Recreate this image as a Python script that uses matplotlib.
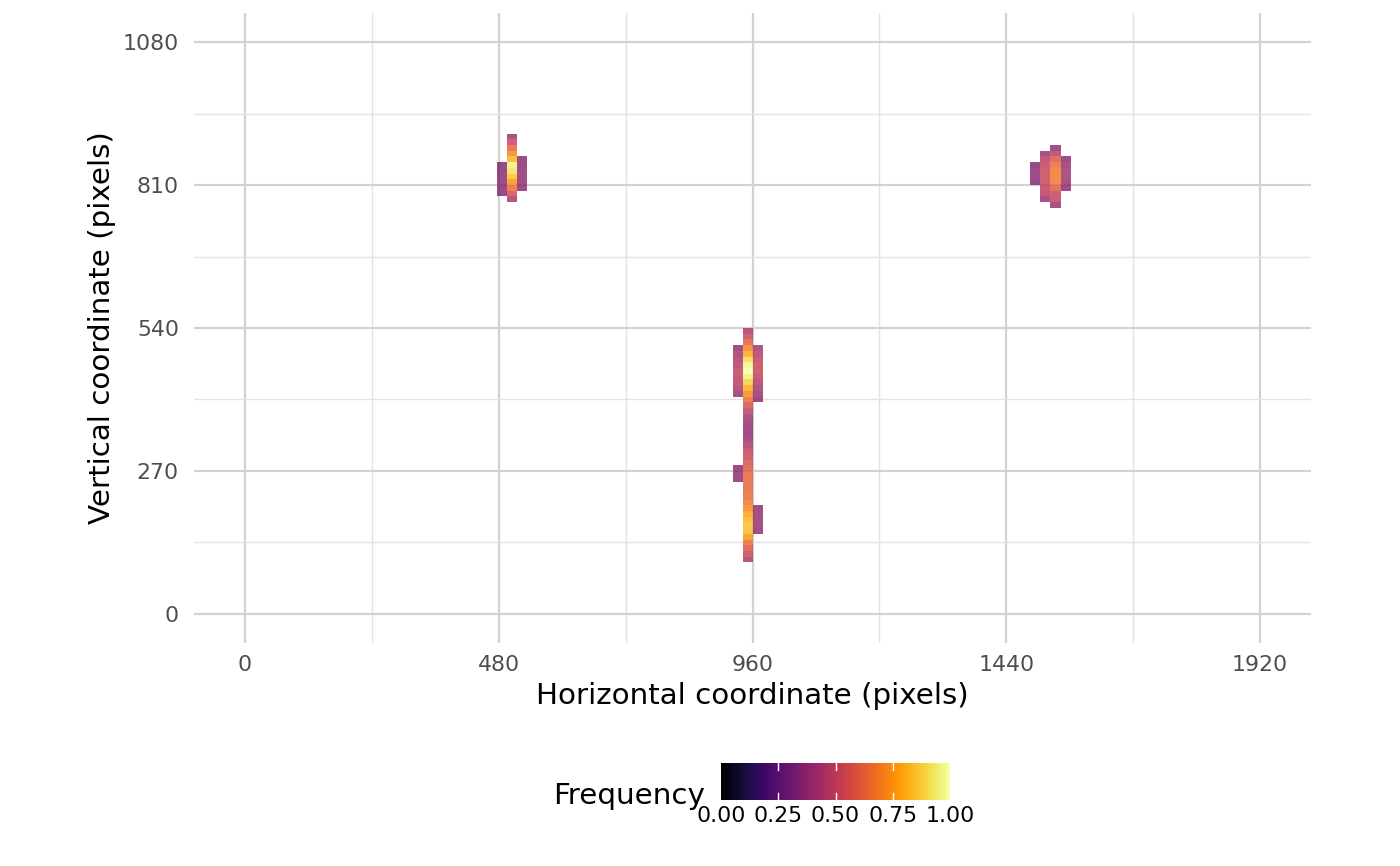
import numpy as np
import matplotlib
matplotlib.use("Agg")
import matplotlib.pyplot as plt
from matplotlib import cm, colors

# heatmap grid: 100 x 100 bins over a 1920 x 1080 screen
bin_w = 1920 / 100
bin_h = 1080 / 100

# each column of tiles: left edge (px), first row bin, frequencies bottom -> top
c1_left = (476.7, 73, [0.35, 0.35, 0.36, 0.36, 0.35, 0.35])
c1_mid = (495.9, 72, [0.45, 0.55, 0.65, 0.75, 0.85, 0.92, 0.95, 0.82, 0.72, 0.62, 0.52, 0.42])
c1_right = (515.1, 74, [0.36, 0.38, 0.38, 0.38, 0.37, 0.36])

c2_left_lo = (922.4, 23, [0.37, 0.37, 0.37])
c2_left_hi = (922.4, 38, [0.40, 0.45, 0.48, 0.50, 0.50, 0.47, 0.45, 0.42, 0.38])
c2_mid = (941.6, 9, [0.45, 0.52, 0.58, 0.66, 0.75, 0.83, 0.84, 0.82, 0.78, 0.72,
                     0.68, 0.65, 0.63, 0.63, 0.62, 0.63, 0.60, 0.57, 0.52, 0.50,
                     0.45, 0.40, 0.38, 0.38, 0.40, 0.42, 0.50, 0.57, 0.65, 0.73,
                     0.80, 0.88, 0.95, 1.00, 0.97, 0.90, 0.80, 0.70, 0.60, 0.52,
                     0.45])
c2_right_lo = (960.8, 14, [0.38, 0.40, 0.40, 0.40, 0.38])
c2_right_hi = (960.8, 37, [0.37, 0.40, 0.42, 0.47, 0.50, 0.52, 0.52, 0.50, 0.47, 0.42])

c3_a = (1485.0, 75, [0.35, 0.37, 0.37, 0.35])
c3_b = (1504.2, 72, [0.40, 0.48, 0.50, 0.52, 0.52, 0.52, 0.50, 0.48, 0.40])
c3_c = (1523.4, 71, [0.40, 0.50, 0.52, 0.60, 0.68, 0.68, 0.68, 0.65, 0.58, 0.48, 0.38])
c3_d = (1542.6, 74, [0.37, 0.40, 0.42, 0.42, 0.40, 0.37])

columns = [c1_left, c1_mid, c1_right,
           c2_left_lo, c2_left_hi, c2_mid, c2_right_lo, c2_right_hi,
           c3_a, c3_b, c3_c, c3_d]

x_ticks = [0, 480, 960, 1440, 1920]
y_ticks = [0, 270, 540, 810, 1080]
legend_ticks = [0, 0.25, 0.5, 0.75, 1.0]

cmap = plt.get_cmap("inferno")
norm = colors.Normalize(0, 1)

fig = plt.figure(figsize=(14, 8.66), dpi=100)
ax = fig.add_axes([0.1387, 0.2580, 0.9363 - 0.1387, 0.9845 - 0.2580])

for x0, b0, vals in columns:
    vals = np.array(vals)
    bottoms = (b0 + np.arange(len(vals))) * bin_h
    ax.bar(x0, bin_h, width=bin_w, bottom=bottoms, align="edge",
           color=cmap(norm(vals)), alpha=0.8, linewidth=0, antialiased=False,
           zorder=2)

ax.set_xlim(-96, 2016)
ax.set_ylim(-54, 1134)
ax.set_xticks(x_ticks)
ax.set_yticks(y_ticks)
ax.set_xticks([240, 720, 1200, 1680], minor=True)
ax.set_yticks([135, 405, 675, 945], minor=True)
ax.grid(which="major", color="#d2d2d2", linewidth=1.6, zorder=0)
ax.grid(which="minor", color="#e3e3e3", linewidth=1.0, zorder=0)
ax.set_axisbelow(True)
for s in ax.spines.values():
    s.set_visible(False)
ax.tick_params(which="both", length=0, labelsize=15.8, labelcolor="#4d4d4d")
ax.tick_params(axis="x", pad=9)
ax.tick_params(axis="y", pad=11)
ax.set_xlabel("Horizontal coordinate (pixels)", fontsize=21.2, labelpad=5)
ax.set_ylabel("Vertical coordinate (pixels)", fontsize=21.2, labelpad=5)

# colour bar legend
cax = fig.add_axes([0.515, 0.0762, 0.1636, 0.0427])
cb = fig.colorbar(cm.ScalarMappable(norm=norm, cmap=cmap), cax=cax,
                  orientation="horizontal")
cb.outline.set_visible(False)
cb.set_ticks(legend_ticks)
cb.set_ticklabels(["%.2f" % t for t in legend_ticks])
cax.tick_params(length=0, labelsize=15.8, pad=4, labelcolor="black")
for t in legend_ticks[1:-1]:
    cax.plot([t, t], [0, 0.2], color="white", lw=1, transform=cax.get_xaxis_transform())
    cax.plot([t, t], [0.8, 1], color="white", lw=1, transform=cax.get_xaxis_transform())
fig.text(705 / 1400, 1 - 796 / 866, "Frequency", fontsize=21.2, ha="right", va="center")

fig.savefig("out.png", dpi=100, facecolor="white")
